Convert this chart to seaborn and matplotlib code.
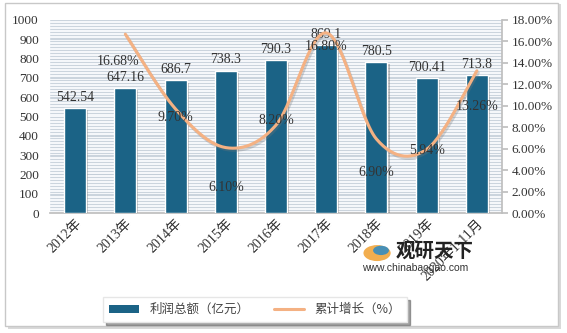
import numpy as np
import pandas as pd
import matplotlib
matplotlib.use("Agg")
import matplotlib.pyplot as plt
import matplotlib.patheffects as pe
from matplotlib.patches import Rectangle, Patch, Circle
from matplotlib.lines import Line2D
from matplotlib.ticker import MultipleLocator, FuncFormatter
import seaborn as sns

# ---- data ----
categories = ["2012年", "2013年", "2014年", "2015年", "2016年", "2017年", "2018年", "2019年", "2020年1-11月"]
profit = [542.54, 647.16, 686.7, 738.3, 790.3, 869.1, 780.5, 700.41, 713.8]
profit_labels = ["542.54", "647.16", "686.7", "738.3", "790.3", "869.1", "780.5", "700.41", "713.8"]
growth_cats = categories[1:]
growth = [16.68, 9.70, 6.10, 8.20, 16.80, 6.90, 5.94, 13.26]
growth_labels = ["16.68%", "9.70%", "6.10%", "8.20%", "16.80%", "6.90%", "5.94%", "13.26%"]
left_ticks = list(range(0, 1001, 100))
right_ticks = list(range(0, 19, 2))

# ---- style ----
sns.set_theme(style="white")
plt.rcParams['font.family'] = ['Liberation Serif', 'Noto Sans CJK SC', 'DejaVu Sans']
BAR = "#1b6386"
LINE = "#f4b183"
serif = ['Liberation Serif', 'Noto Sans CJK SC']

fig = plt.figure(figsize=(5.67, 3.33), dpi=100)
fig.patch.set_facecolor("white")

# outer frame with shadow
fig.patches.append(Rectangle((0.014, 0.012), 0.976, 0.975, transform=fig.transFigure,
                             facecolor="#d9d9d9", edgecolor="none", zorder=-3))
fig.patches.append(Rectangle((0.008, 0.02), 0.976, 0.97, transform=fig.transFigure,
                             facecolor="white", edgecolor="#c8c8c8", lw=1.0, zorder=-2))

ax = fig.add_axes([50/567, 1-213/333, 452/567, 193/333])
ax.set_facecolor("#f5f7fa")

df = pd.DataFrame({"cat": categories, "profit": profit})
sns.barplot(data=df, x="cat", y="profit", color=BAR, width=0.44, ax=ax, saturation=1, zorder=3)
for p in ax.patches:
    p.set_path_effects([pe.SimplePatchShadow(offset=(1.5, -1.5), alpha=0.35, shadow_rgbFace="#555555"), pe.Normal()])

ax.set_ylim(0, 1000)
ax.set_xlim(-0.5, len(categories) - 0.5)
ax.yaxis.set_major_locator(plt.FixedLocator(left_ticks))
ax.yaxis.set_minor_locator(MultipleLocator(1000/64))
ax.grid(False)
ax.yaxis.grid(True, which="both", color="#c3ced8", lw=0.6)
ax.set_axisbelow(True)
ax.set_xlabel("")
ax.set_ylabel("")
for s in ["top", "left", "right"]:
    ax.spines[s].set_visible(False)
ax.spines["bottom"].set_color("#bfbfbf")
ax.tick_params(axis="y", which="both", length=0, labelsize=9.5, colors="#333333", pad=8)
ax.tick_params(axis="x", length=0, labelsize=10, colors="#333333", pad=3)
ax.set_xticks(range(len(categories)))
ax.set_xticklabels(categories, rotation=45, ha="right", rotation_mode="anchor", family=serif)
for lab in ax.get_yticklabels():
    lab.set_family(serif)

for i, (v, t) in enumerate(zip(profit, profit_labels)):
    ax.text(i, v + 22, t, ha="center", va="bottom", fontsize=10, color="#333333", family=serif, zorder=6)

# ---- secondary axis ----
ax2 = ax.twinx()
ax2.set_ylim(0, 18)
ax2.yaxis.set_major_locator(plt.FixedLocator(right_ticks))
ax2.yaxis.set_major_formatter(FuncFormatter(lambda v, _: f"{v:.2f}%"))
for s in ["top", "left", "bottom"]:
    ax2.spines[s].set_visible(False)
ax2.spines["right"].set_color("#bfbfbf")
ax2.tick_params(axis="y", length=4, color="#bfbfbf", labelsize=9.5, colors="#333333", pad=3)
for lab in ax2.get_yticklabels():
    lab.set_family(serif)
ax2.grid(False)

# smooth (Catmull-Rom) curve through the data points
xs = np.array([categories.index(c) for c in growth_cats], dtype=float)
ys = np.array(growth, dtype=float)
P = np.column_stack([xs, ys])
Pext = np.vstack([P[0], P, P[-1]])
curve = []
tt = np.linspace(0, 1, 30)
for k in range(1, len(Pext) - 2):
    p0, p1, p2, p3 = Pext[k-1], Pext[k], Pext[k+1], Pext[k+2]
    m1 = (p2 - p0) / 2
    m2 = (p3 - p1) / 2
    h00 = 2*tt**3 - 3*tt**2 + 1
    h10 = tt**3 - 2*tt**2 + tt
    h01 = -2*tt**3 + 3*tt**2
    h11 = tt**3 - tt**2
    seg = np.outer(h00, p1) + np.outer(h10, m1) + np.outer(h01, p2) + np.outer(h11, m2)
    curve.append(seg if k == 1 else seg[1:])
curve = np.vstack(curve)
cdf = pd.DataFrame({"x": curve[:, 0], "y": curve[:, 1]})
sns.lineplot(data=cdf, x="x", y="y", ax=ax2, color=LINE, lw=2.2, sort=False, estimator=None, zorder=4)
for ln in ax2.lines:
    ln.set_path_effects([pe.SimpleLineShadow(offset=(1, -1.5), alpha=0.3, shadow_color="#777777"), pe.Normal()])
ax2.set_xlabel("")
ax2.set_ylabel("")

offsets = [(-5, -20), (0, -6), (0, -29), (0, 3), (0, -10), (0, -24), (0, -1), (0, -26)]
for x, y, t, off in zip(xs, ys, growth_labels, offsets):
    ax2.annotate(t, (x, y), xytext=off, textcoords="offset points", ha="center", va="center",
                 fontsize=10, color="#333333", family=serif, zorder=7)

# watermark
fig.patches.append(Circle((0.665, 0.24), 0.024, transform=fig.transFigure,
                          facecolor="#f0a030", edgecolor="none", alpha=0.85))
fig.patches.append(Circle((0.672, 0.248), 0.014, transform=fig.transFigure,
                          facecolor="#2a8ac8", edgecolor="none", alpha=0.85))
fig.text(0.697, 0.245, "观研天下", fontsize=14, fontweight="bold", color="#222222",
         family=['Noto Sans CJK SC'], ha="left", va="center")
fig.text(0.638, 0.196, "www.chinabaogao.com", fontsize=7.5, color="#333333",
         family=['Liberation Sans'], ha="left", va="center")

# legend
handles = [Patch(facecolor=BAR, edgecolor="none"), Line2D([0], [0], color=LINE, lw=2.2)]
leg = fig.legend(handles, ["利润总额（亿元）", "累计增长（%）"], loc="center", bbox_to_anchor=(0.45, 0.07),
                 ncol=2, frameon=True, prop={"family": ['Noto Sans CJK SC'], "size": 9},
                 handlelength=2.4, handleheight=0.6, columnspacing=2.0, borderpad=0.5,
                 fancybox=False, shadow=True)
leg.get_frame().set_edgecolor("#e6e6e6")
leg.get_frame().set_facecolor("white")
for t in leg.get_texts():
    t.set_color("#444444")

fig.savefig("out.png", dpi=100)
